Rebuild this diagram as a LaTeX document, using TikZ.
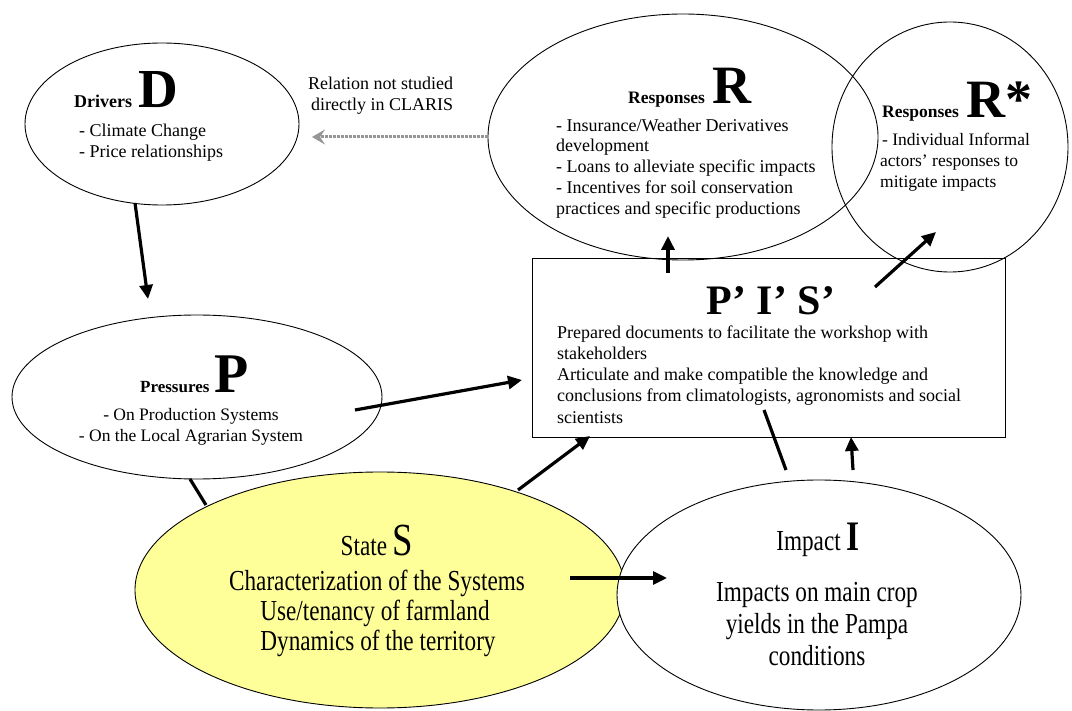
\documentclass[tikz,border=0pt]{standalone}
\usepackage{fontspec}
\setmainfont{Liberation Serif}
\newfontfamily\condfont[FakeStretch=0.80]{Liberation Serif}
\usetikzlibrary{shapes.geometric,arrows.meta}
\definecolor{stateyellow}{RGB}{255,255,153}
\definecolor{dotgray}{RGB}{150,150,150}
\begin{document}
\begin{tikzpicture}[x=1pt,y=-1pt,
  ell/.style={ellipse, draw, line width=0.9pt, inner sep=0pt},
  arr/.style={-{Triangle[length=14pt,width=13pt]}, line width=3.2pt},
  plain/.style={line width=3.2pt},
  dotarr/.style={dotgray, line width=3pt, dash pattern=on 2.2pt off 1.8pt, -{Stealth[length=13pt,width=15pt,inset=5pt]}},
  txt/.style={inner sep=0pt, anchor=base west, font=\fontsize{18}{21}\selectfont},
  ctxt/.style={inner sep=0pt, anchor=base, font=\fontsize{17.5}{21}\selectfont},
  cond/.style={inner sep=0pt, anchor=base, font=\condfont\fontsize{29}{32}\selectfont}
]
\useasboundingbox (0,0) rectangle (1072,711);

% ellipses and box
\node[ell, minimum width=274pt, minimum height=162pt] (D) at (162,124) {};
\node[ell, minimum width=390pt, minimum height=246pt] (R) at (683,137) {};
\node[ell, minimum width=236pt, minimum height=250pt] (Rs) at (950,147) {};
\node[draw, line width=0.9pt, minimum width=473pt, minimum height=179pt, inner sep=0pt] (box) at (768.5,347.5) {};
\node[ell, minimum width=370pt, minimum height=164pt] (P) at (197,397) {};
\node[ell, fill=stateyellow, minimum width=490pt, minimum height=236pt] (S) at (380,590) {};
\node[ell, fill=white, minimum width=404pt, minimum height=230pt] (I) at (819,595) {};

% Drivers text
\node[txt] (dtitle) at (74,108) {{\fontsize{18}{19}\selectfont\bfseries Drivers}\hspace{6pt}{\fontsize{55}{55}\selectfont\bfseries D}};
\node[txt] (d1) at (79,137) {- Climate Change};
\node[txt] (d2) at (79,158) {- Price relationships};

% Relation note
\node[txt] (n1) at (308,90) {Relation not studied};
\node[txt] (n2) at (311,111) {directly in CLARIS};

% Responses R
\node[txt] (rtitle) at (628,104) {{\fontsize{17.5}{19}\selectfont\bfseries Responses}\hspace{7pt}{\fontsize{54}{54}\selectfont\bfseries R}};
\node[txt] (r1) at (556,132) {- Insurance/Weather Derivatives};
\node[txt] (r2) at (556,152) {development};
\node[txt] (r3) at (556,173) {- Loans to alleviate specific impacts};
\node[txt] (r4) at (556,194) {- Incentives for soil conservation};
\node[txt] (r5) at (556,215) {practices and specific productions};

% Responses R*
\node[txt] (stitle) at (882,118) {{\fontsize{17.5}{19}\selectfont\bfseries Responses}\hspace{7pt}{\fontsize{54}{54}\selectfont\bfseries R*}};
\node[txt, font=\fontsize{17.5}{21}\selectfont] (s1) at (882,146) {- Individual Informal};
\node[txt, font=\fontsize{17.5}{21}\selectfont] (s2) at (880,167) {actors’ responses to};
\node[txt, font=\fontsize{17.5}{21}\selectfont] (s3) at (880,188) {mitigate impacts};

% P' I' S'
\node[inner sep=0pt, anchor=base, font=\fontsize{42}{42}\selectfont\bfseries] (ptitle) at (771,315) {P’ I’ S’};
\node[txt] (b1) at (557,339) {Prepared documents to facilitate the workshop with};
\node[txt] (b2) at (557,360) {stakeholders};
\node[txt] (b3) at (557,381) {Articulate and make compatible the knowledge and};
\node[txt] (b4) at (557,402) {conclusions from climatologists, agronomists and social};
\node[txt] (b5) at (557,424) {scientists};

% Pressures
\node[txt] (ptxt) at (140,393) {{\fontsize{17}{19}\selectfont\bfseries Pressures}\hspace{5pt}{\fontsize{56}{56}\selectfont\bfseries P}};
\node[ctxt] (p1) at (191,421) {- On Production Systems};
\node[ctxt] (p2) at (191,442) {- On the Local Agrarian System};

% State
\node[cond] (st) at (377,555) {State {\fontsize{46}{46}\selectfont S}};
\node[cond] (st1) at (377,590) {Characterization of the Systems};
\node[cond] (st2) at (375,620) {Use/tenancy of farmland};
\node[cond] (st3) at (378,650) {Dynamics of the territory};

% Impact
\node[cond] (it) at (818,550) {Impact {\fontsize{42}{42}\selectfont\bfseries I}};
\node[cond] (i1) at (817,601) {Impacts on main crop};
\node[cond] (i2) at (817,633) {yields in the Pampa};
\node[cond] (i3) at (817,665) {conditions};

% connector end points
\coordinate (dstart) at (135,203);
\coordinate (dend) at (148,299);
\coordinate (ntip) at (312,137);
\coordinate (rfoot) at (668,273);
\coordinate (rtip) at (668,236);
\coordinate (rsfoot) at (875,287);
\coordinate (rstip) at (936,232);
\coordinate (pstart) at (355,410);
\coordinate (ptip) at (522,380);
\coordinate (pbot) at (190,479);
\coordinate (stop) at (206,505);
\coordinate (sfoot) at (518,490);
\coordinate (stip) at (590,436);
\coordinate (sstart) at (570,578);
\coordinate (itip) at (667,578);
\coordinate (iline) at (786,470);
\coordinate (ilineend) at (764,410);
\coordinate (ifoot) at (853,470);
\coordinate (iboxtip) at (851,437);

% connectors
\draw[arr] (dstart) -- (dend);
\draw[dotarr] (R.west) -- (ntip);
\draw[arr, line width=4.2pt] (rfoot) -- (rtip);
\draw[arr] (rsfoot) -- (rstip);
\draw[arr] (pstart) -- (ptip);
\draw[plain] (pbot) -- (stop);
\draw[arr] (sfoot) -- (stip);
\draw[arr] (sstart) -- (itip);
\draw[plain] (iline) -- (ilineend);
\draw[arr] (ifoot) -- (iboxtip);
\end{tikzpicture}
\end{document}
